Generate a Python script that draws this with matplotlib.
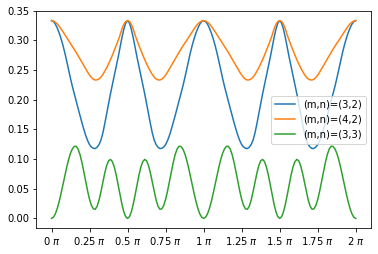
import numpy as np
import matplotlib
matplotlib.use("Agg")
import matplotlib.pyplot as plt

# sample positions, in units of pi (0 .. 2 pi, every 0.0125 pi)
t_pi = np.linspace(0.0, 2.0, 161)

mn_32 = [
    0.3333, 0.3318, 0.3275, 0.3210, 0.3128, 0.3030, 0.2918, 0.2790, 0.2650, 0.2500,
    0.2355, 0.2220, 0.2095, 0.1973, 0.1851, 0.1730, 0.1612, 0.1500, 0.1397, 0.1310,
    0.1243, 0.1203, 0.1182, 0.1177, 0.1200, 0.1245, 0.1320, 0.1440, 0.1595, 0.1765,
    0.1935, 0.2100, 0.2255, 0.2405, 0.2555, 0.2710, 0.2875, 0.3040, 0.3185, 0.3290,
    0.3333,
    0.3290, 0.3185, 0.3040, 0.2875, 0.2710, 0.2555, 0.2405, 0.2255, 0.2100, 0.1935,
    0.1765, 0.1595, 0.1440, 0.1320, 0.1245, 0.1200, 0.1177, 0.1182, 0.1203, 0.1243,
    0.1310, 0.1397, 0.1500, 0.1612, 0.1730, 0.1851, 0.1973, 0.2095, 0.2220, 0.2355,
    0.2500, 0.2650, 0.2790, 0.2918, 0.3030, 0.3128, 0.3210, 0.3275, 0.3318, 0.3333,
    0.3318, 0.3275, 0.3210, 0.3128, 0.3030, 0.2918, 0.2790, 0.2650, 0.2500,
    0.2355, 0.2220, 0.2095, 0.1973, 0.1851, 0.1730, 0.1612, 0.1500, 0.1397, 0.1310,
    0.1243, 0.1203, 0.1182, 0.1177, 0.1200, 0.1245, 0.1320, 0.1440, 0.1595, 0.1765,
    0.1935, 0.2100, 0.2255, 0.2405, 0.2555, 0.2710, 0.2875, 0.3040, 0.3185, 0.3290,
    0.3333,
    0.3290, 0.3185, 0.3040, 0.2875, 0.2710, 0.2555, 0.2405, 0.2255, 0.2100, 0.1935,
    0.1765, 0.1595, 0.1440, 0.1320, 0.1245, 0.1200, 0.1177, 0.1182, 0.1203, 0.1243,
    0.1310, 0.1397, 0.1500, 0.1612, 0.1730, 0.1851, 0.1973, 0.2095, 0.2220, 0.2355,
    0.2500, 0.2650, 0.2790, 0.2918, 0.3030, 0.3128, 0.3210, 0.3275, 0.3318, 0.3333,
]

mn_42 = [
    0.3333, 0.3326, 0.3307, 0.3278, 0.3240, 0.3195, 0.3147, 0.3097, 0.3045, 0.2995,
    0.2950, 0.2900, 0.2850, 0.2795, 0.2740, 0.2685, 0.2630, 0.2575, 0.2520, 0.2465,
    0.2415, 0.2375, 0.2345, 0.2332, 0.2335, 0.2350, 0.2380, 0.2425, 0.2480, 0.2540,
    0.2605, 0.2675, 0.2750, 0.2830, 0.2910, 0.2995, 0.3085, 0.3190, 0.3270, 0.3318,
    0.3333,
    0.3318, 0.3270, 0.3190, 0.3085, 0.2995, 0.2910, 0.2830, 0.2750, 0.2675, 0.2605,
    0.2540, 0.2480, 0.2425, 0.2380, 0.2350, 0.2335, 0.2332, 0.2345, 0.2375, 0.2415,
    0.2465, 0.2520, 0.2575, 0.2630, 0.2685, 0.2740, 0.2795, 0.2850, 0.2900, 0.2950,
    0.2995, 0.3045, 0.3097, 0.3147, 0.3195, 0.3240, 0.3278, 0.3307, 0.3326, 0.3333,
    0.3326, 0.3307, 0.3278, 0.3240, 0.3195, 0.3147, 0.3097, 0.3045, 0.2995,
    0.2950, 0.2900, 0.2850, 0.2795, 0.2740, 0.2685, 0.2630, 0.2575, 0.2520, 0.2465,
    0.2415, 0.2375, 0.2345, 0.2332, 0.2335, 0.2350, 0.2380, 0.2425, 0.2480, 0.2540,
    0.2605, 0.2675, 0.2750, 0.2830, 0.2910, 0.2995, 0.3085, 0.3190, 0.3270, 0.3318,
    0.3333,
    0.3318, 0.3270, 0.3190, 0.3085, 0.2995, 0.2910, 0.2830, 0.2750, 0.2675, 0.2605,
    0.2540, 0.2480, 0.2425, 0.2380, 0.2350, 0.2335, 0.2332, 0.2345, 0.2375, 0.2415,
    0.2465, 0.2520, 0.2575, 0.2630, 0.2685, 0.2740, 0.2795, 0.2850, 0.2900, 0.2950,
    0.2995, 0.3045, 0.3097, 0.3147, 0.3195, 0.3240, 0.3278, 0.3307, 0.3326, 0.3333,
]

mn_33 = [
    0.0000, 0.0019, 0.0075, 0.0164, 0.0281, 0.0418, 0.0567, 0.0719, 0.0864, 0.0994,
    0.1100, 0.1174, 0.1214, 0.1215, 0.1167, 0.1073, 0.0941, 0.0785, 0.0618, 0.0459,
    0.0321, 0.0218, 0.0161, 0.0154, 0.0205, 0.0310, 0.0451, 0.0611, 0.0764, 0.0890,
    0.0971, 0.0994, 0.0957, 0.0867, 0.0734, 0.0572, 0.0402, 0.0243, 0.0113, 0.0029,
    0.0000,
    0.0029, 0.0113, 0.0243, 0.0402, 0.0572, 0.0734, 0.0867, 0.0957, 0.0994, 0.0971,
    0.0890, 0.0764, 0.0611, 0.0451, 0.0310, 0.0205, 0.0154, 0.0161, 0.0218, 0.0321,
    0.0459, 0.0618, 0.0785, 0.0941, 0.1073, 0.1167, 0.1215, 0.1214, 0.1174, 0.1100,
    0.0994, 0.0864, 0.0719, 0.0567, 0.0418, 0.0281, 0.0164, 0.0075, 0.0019, 0.0000,
    0.0019, 0.0075, 0.0164, 0.0281, 0.0418, 0.0567, 0.0719, 0.0864, 0.0994,
    0.1100, 0.1174, 0.1214, 0.1215, 0.1167, 0.1073, 0.0941, 0.0785, 0.0618, 0.0459,
    0.0321, 0.0218, 0.0161, 0.0154, 0.0205, 0.0310, 0.0451, 0.0611, 0.0764, 0.0890,
    0.0971, 0.0994, 0.0957, 0.0867, 0.0734, 0.0572, 0.0402, 0.0243, 0.0113, 0.0029,
    0.0000,
    0.0029, 0.0113, 0.0243, 0.0402, 0.0572, 0.0734, 0.0867, 0.0957, 0.0994, 0.0971,
    0.0890, 0.0764, 0.0611, 0.0451, 0.0310, 0.0205, 0.0154, 0.0161, 0.0218, 0.0321,
    0.0459, 0.0618, 0.0785, 0.0941, 0.1073, 0.1167, 0.1215, 0.1214, 0.1174, 0.1100,
    0.0994, 0.0864, 0.0719, 0.0567, 0.0418, 0.0281, 0.0164, 0.0075, 0.0019, 0.0000,
]

labels = ["(m,n)=(3,2)", "(m,n)=(4,2)", "(m,n)=(3,3)"]
tick_vals = [0, 0.25, 0.5, 0.75, 1, 1.25, 1.5, 1.75, 2]

fig = plt.figure(figsize=(378 / 72, 254 / 72), dpi=72)
ax = fig.add_axes([36.3 / 378, 1 - 228.3 / 254, (371 - 36.3) / 378, (228.3 - 10.7) / 254])

x = t_pi * np.pi
for series, lab in zip([mn_32, mn_42, mn_33], labels):
    ax.plot(x, series, label=lab)

ax.set_ylim(-1 / 60, 0.35)
ax.set_xticks(np.array(tick_vals) * np.pi)
ax.set_xticklabels([f"{v} $\\pi$" for v in tick_vals])
ax.legend(loc="center right")

fig.savefig("out.png", dpi=72)
